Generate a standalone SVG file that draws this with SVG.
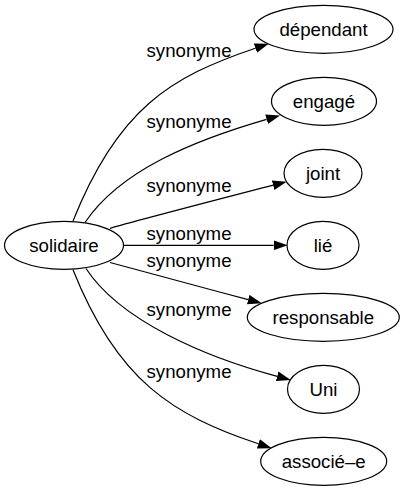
<svg xmlns="http://www.w3.org/2000/svg" width="404" height="491" viewBox="0 0 404 491">
<style>
.node ellipse{fill:#fff;stroke:#000;stroke-width:1.2}
text{font-family:"Liberation Sans",Arial,sans-serif;font-size:18.67px;fill:#000;text-anchor:middle}
.edge path{fill:none;stroke:#000;stroke-width:1.2}
</style>
<defs>
<marker id="arr" markerUnits="userSpaceOnUse" markerWidth="14" markerHeight="10" viewBox="0 0 13.33 9.33" refX="0" refY="4.67" orient="auto">
<path d="M0,0 L13.33,4.67 L0,9.33 z" fill="#000"/>
</marker>
</defs>
<rect width="404" height="491" fill="#fff"/>
<g id="edges" class="edge">
<path d="M73,221 C117.4,109.4 170.1,76.8 255.4,48.2" marker-end="url(#arr)"/>
<path d="M85,222.5 C120,170 195,140 266.6,119.3" marker-end="url(#arr)"/>
<path d="M110,228.3 C150,217 220,199 273.1,185.2" marker-end="url(#arr)"/>
<path d="M124,245.33 L273.67,245.33" marker-end="url(#arr)"/>
<path d="M110,262.5 C150,273 200,287 248.2,299.6" marker-end="url(#arr)"/>
<path d="M86,268.5 C120,320.7 205,357 277.2,376.3" marker-end="url(#arr)"/>
<path d="M73,269.7 C117.4,381.3 173.1,415.2 258.4,443.8" marker-end="url(#arr)"/>
<text x="189" y="56.7">synonyme</text>
<text x="189" y="128.3">synonyme</text>
<text x="189" y="191.7">synonyme</text>
<text x="189" y="240">synonyme</text>
<text x="189" y="267.3">synonyme</text>
<text x="189" y="315.7">synonyme</text>
<text x="189" y="378.3">synonyme</text>
</g>
<g id="solidaire" class="node"><ellipse cx="64" cy="245.33" rx="59.5" ry="24"/><text x="64" y="251.7">solidaire</text></g>
<g id="dependant" class="node"><ellipse cx="323.5" cy="29.33" rx="69.5" ry="24"/><text x="323.5" y="35.7">dépendant</text></g>
<g id="engage" class="node"><ellipse cx="324" cy="101.33" rx="52.5" ry="24"/><text x="324" y="107.7">engagé</text></g>
<g id="joint" class="node"><ellipse cx="323" cy="173.33" rx="39" ry="24"/><text x="323" y="179.7">joint</text></g>
<g id="lie" class="node"><ellipse cx="323" cy="245.33" rx="36" ry="24"/><text x="323" y="251.7">lié</text></g>
<g id="responsable" class="node"><ellipse cx="323.3" cy="317.33" rx="76" ry="24"/><text x="323.3" y="323.7">responsable</text></g>
<g id="uni" class="node"><ellipse cx="323.5" cy="389.33" rx="36" ry="24"/><text x="323.5" y="395.7">Uni</text></g>
<g id="associe" class="node"><ellipse cx="323.7" cy="461.33" rx="63" ry="24"/><text x="323.7" y="467.7">associé–e</text></g>
</svg>
